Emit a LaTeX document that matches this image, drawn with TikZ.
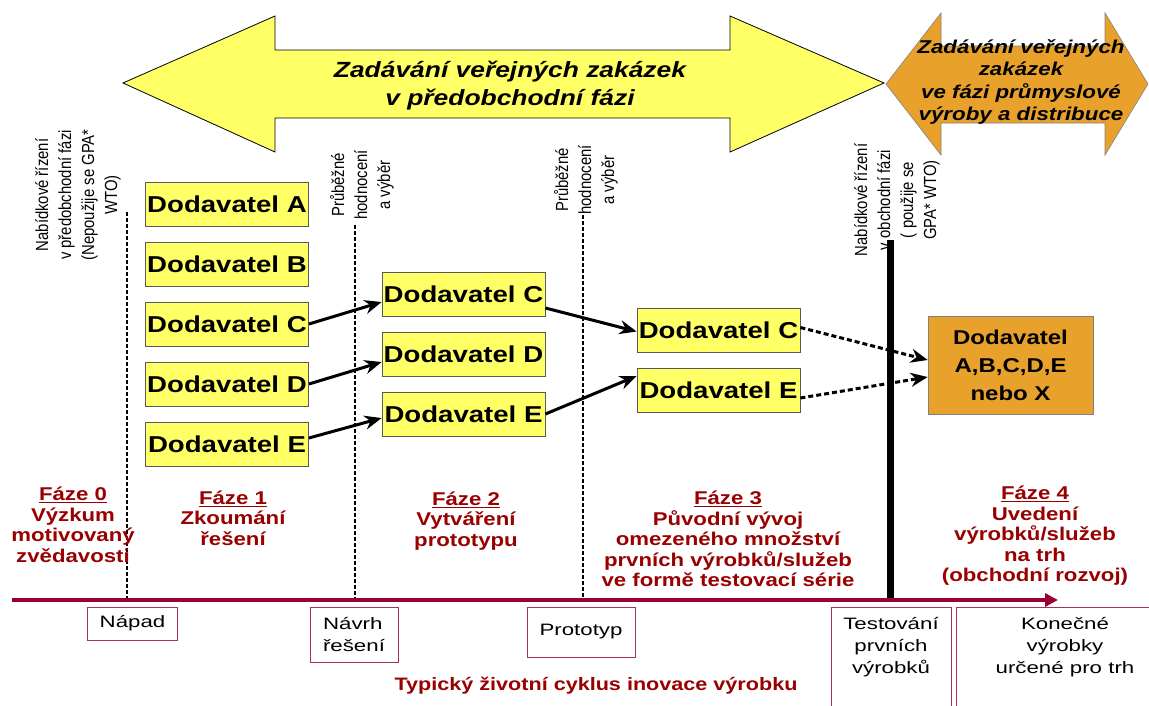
\documentclass[tikz,border=0pt]{standalone}
\usepackage{fontspec}
\setmainfont{Liberation Sans}
\newfontfamily\wfont{Liberation Sans}[FakeStretch=1.2]
\newfontfamily\wwfont{Liberation Sans}[FakeStretch=1.35]
\newfontfamily\nfont{Liberation Sans}[FakeStretch=0.85]
\usetikzlibrary{arrows.meta,calc}
\definecolor{yel}{RGB}{255,255,102}
\definecolor{orng}{RGB}{232,162,44}
\definecolor{maroon}{RGB}{153,0,0}
\definecolor{axisred}{RGB}{153,0,51}
\definecolor{boxred}{RGB}{165,50,80}
\begin{document}
\begin{tikzpicture}[x=1pt,y=-1pt,
 sup/.style={draw=black!65, line width=0.8pt, fill=yel, minimum width=163pt, minimum height=44pt, inner sep=0pt, font=\wfont\bfseries\fontsize{23}{26}\selectfont},
 phase/.style={text=maroon, align=center, font=\wfont\bfseries\fontsize{18.5}{20.5}\selectfont},
 vlab/.style={rotate=90, align=center, font=\nfont\fontsize{17.5}{23}\selectfont},
 blab/.style={align=center, font=\wwfont\fontsize{16.5}{22}\selectfont, inner sep=0pt},
 bbox/.style={draw=boxred, line width=0.9pt, fill=white},
 solidarr/.style={line width=3pt, -{Stealth[length=17pt,width=14pt]}},
 dotarr/.style={line width=3pt, dash pattern=on 5pt off 3pt, -{Stealth[length=17pt,width=14pt]}},
 sepline/.style={line width=1.6pt, dash pattern=on 4pt off 2pt}
]
\useasboundingbox[fill=white] (0,0) rectangle (1149,705);

% big arrows
\path[draw=black, line width=0.8pt, fill=yel] (123,83) -- (275,16) -- (275,50) -- (730,50) -- (730,16) -- (884,83) -- (730,152) -- (730,118) -- (275,118) -- (275,152) -- cycle;
\path[draw=black!50, line width=0.6pt, fill=orng] (886,84) -- (941,13) -- (941,46) -- (1105,46) -- (1105,13) -- (1148,84) -- (1105,155) -- (1105,123) -- (941,123) -- (941,155) -- cycle;
\node[font=\wfont\bfseries\itshape\fontsize{22}{28}\selectfont, align=center] (t1) at (510,86) {Zadávání veřejných zakázek\\v předobchodní fázi};
\node[font=\wfont\bfseries\itshape\fontsize{18.6}{22.5}\selectfont, align=center] (t2) at (1021,82) {Zadávání veřejných\\zakázek\\ve fázi průmyslové\\výroby a distribuce};

% separators
\coordinate (s1t) at (127,212); \coordinate (s1b) at (127,598);
\coordinate (s2t) at (355,225); \coordinate (s2b) at (355,598);
\coordinate (s3t) at (583,215); \coordinate (s3b) at (583,598);
\draw[sepline] (s1t) -- (s1b);
\draw[sepline] (s2t) -- (s2b);
\draw[sepline] (s3t) -- (s3b);

% rotated labels
\node[vlab] (r1) at (78,195) {Nabídkové řízení\\v předobchodní fázi\\(Nepoužije se GPA*\\WTO)};
\node[vlab] (r2) at (362,185) {Průběžné\\hodnocení\\a výběr};
\node[vlab] (r3) at (586,180) {Průběžné\\hodnocení\\a výběr};
\node[vlab] (r4) at (897,200) {Nabídkové řízení\\v obchodní fázi\\( použije se\\GPA* WTO)};

% suppliers
\node[sup] (a1) at (227,204) {Dodavatel A};
\node[sup] (b1) at (227,264) {Dodavatel B};
\node[sup] (c1) at (227,324) {Dodavatel C};
\node[sup] (d1) at (227,384) {Dodavatel D};
\node[sup] (e1) at (227,444) {Dodavatel E};
\node[sup] (c2) at (463.5,294) {Dodavatel C};
\node[sup] (d2) at (463.5,354) {Dodavatel D};
\node[sup] (e2) at (463.5,414) {Dodavatel E};
\node[sup] (c3) at (718.5,330.5) {Dodavatel C};
\node[sup] (e3) at (718.5,390) {Dodavatel E};
\node[draw=black!50, line width=0.6pt, fill=orng, minimum width=165pt, minimum height=98pt, inner sep=0pt, align=center, font=\wfont\bfseries\fontsize{20}{28}\selectfont] (fin) at (1010.5,365) {Dodavatel\\A,B,C,D,E\\nebo X};

% arrows
\draw[solidarr] (c1.east) -- ($(c2.west)+(0,8)$);
\draw[solidarr] (d1.east) -- ($(d2.west)+(0,8)$);
\draw[solidarr] ($(e1.east)+(0,-6)$) -- ($(e2.west)+(0,4)$);
\draw[solidarr] ($(c2.east)+(0,14)$) -- ($(c3.west)+(0,1)$);
\draw[solidarr] (e2.east) -- ($(e3.west)+(0,-14)$);
\draw[dotarr] ($(c3.east)+(0,-3)$) -- ($(fin.west)+(0,-5)$);
\draw[dotarr] ($(e3.east)+(0,8)$) -- ($(fin.west)+(0,12)$);

% black bar and axis
\coordinate (bar0) at (890,240); \coordinate (bar1) at (890,600);
\draw[line width=7pt] (bar0) -- (bar1);
\coordinate (ax0) at (12,600); \coordinate (ax1) at (1058,600);
\draw[axisred, line width=4pt, -{Triangle[length=13pt,width=13pt]}] (ax0) -- (ax1);

% phases
\node[phase] (p0) at (73,525) {\underline{Fáze 0}\\Výzkum\\motivovaný\\zvědavosti};
\node[phase] (p1) at (233,518) {\underline{Fáze 1}\\Zkoumání\\řešení};
\node[phase] (p2) at (466,521) {\underline{Fáze 2}\\Vytváření\\prototypu};
\node[phase] (p3) at (728,539) {\underline{Fáze 3}\\Původní vývoj\\omezeného množství\\prvních výrobků/služeb\\ve formě testovací série};
\node[phase] (p4) at (1035,536) {\underline{Fáze 4}\\Uvedení\\výrobků/služeb\\na trh\\(obchodní rozvoj)};

% bottom boxes
\node[bbox, blab, minimum width=90pt, minimum height=33pt] (napad) at (132.5,623.5) {Nápad};
\node[bbox, blab, align=left, minimum width=88pt, minimum height=55pt] (navrh) at (354,634.5) {Návrh\\řešení};
\node[bbox, blab, minimum width=108pt, minimum height=50pt] (proto) at (581,632) {Prototyp};
\draw[boxred, line width=0.9pt] (831,708) -- (831,607) -- (951,607) -- (951,708);
\draw[boxred, line width=0.9pt] (956,708) -- (956,607) -- (1152,607);
\node[blab] (test) at (891,647) {Testování\\prvních\\výrobků};
\node[blab] (kon) at (1065,647) {Konečné\\výrobky\\určené pro trh};
\node[text=maroon, font=\wfont\bfseries\fontsize{18}{20}\selectfont] (cyc) at (596,686) {Typický životní cyklus inovace výrobku};
\end{tikzpicture}
\end{document}
